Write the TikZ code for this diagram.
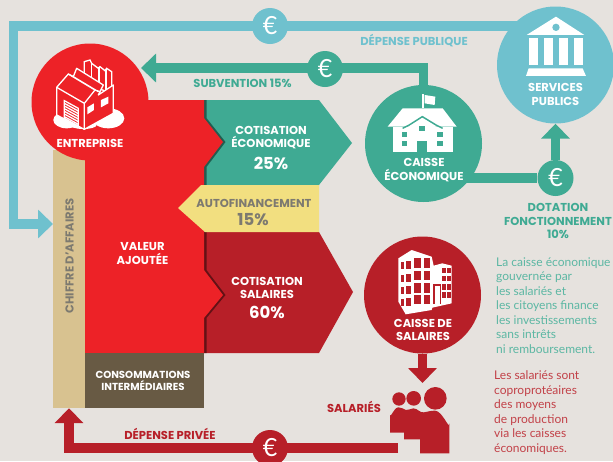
\documentclass[tikz,border=0pt]{standalone}
\usepackage{fontspec}
\setmainfont{Poppins}
\newfontfamily\corpsfont{Lato}
\usetikzlibrary{arrows.meta,positioning}
\definecolor{fond}{HTML}{E6E2DE}
\definecolor{rouge}{HTML}{ED2227}
\definecolor{bordeaux}{HTML}{B71F28}
\definecolor{vert}{HTML}{3FAA93}
\definecolor{bleu}{HTML}{6FC1CE}
\definecolor{beige}{HTML}{D8C290}
\definecolor{brun}{HTML}{685A44}
\definecolor{jaune}{HTML}{F2DF80}
\definecolor{gristexte}{HTML}{7D7A70}
\tikzstyle{disque}=[
	circle,
	inner sep=0,
	minimum size=117]
\tikzstyle{euro}=[
	circle,
	inner sep=0,
	minimum size=36,
	text=white,
	font=\corpsfont\fontsize{25}{25}\selectfont]
\tikzstyle{flux}=[
	line width=9.5]
\tikzstyle{fleche}=[
	line width=9.5,
	-{Triangle[length=15pt,width=28pt]}]
\tikzstyle{titre}=[
	align=center,
	inner sep=0,
	text=white,
	font=\fontsize{11.5}{13.2}\selectfont\bfseries]
\tikzstyle{pourcent}=[
	inner sep=0,
	text=white,
	font=\fontsize{16.5}{17}\selectfont\bfseries]
\tikzstyle{paragraphe}=[
	align=left,
	inner sep=0,
	anchor=north west,
	font=\corpsfont\fontsize{12}{14.5}\selectfont]
\begin{document}
\begin{tikzpicture}[x=1pt,y=-1pt]
	\useasboundingbox (0,0) rectangle (613,461);
	\fill[fond] (0,0) rectangle (613,461);
	\begin{scope}
		\fill[vert] (204,100) -- (319,100) -- (352,143) -- (319,185) -- (204,185) -- cycle;
		\fill[bordeaux] (204,232) -- (319,232) -- (353,292) -- (319,353) -- (204,353) -- cycle;
		\fill[black,opacity=.45,xshift=2.5] (200,100) -- (204,100) -- (204,118) -- (223,142) -- (204,167) -- (204,270) -- (223,295) -- (204,318) -- (204,353) -- (200,353) -- cycle;
		\fill[rouge] (85,100) -- (204,100) -- (204,118) -- (223,142) -- (204,167) -- (204,270) -- (223,295) -- (204,318) -- (204,353) -- (85,353) -- cycle;
		\fill[jaune] (319,185) -- (201,185) -- (178,208) -- (205,232) -- (319,232) -- cycle;
		\node[fill=beige,minimum width=32,minimum height=258,inner sep=0] (chiffre) at (69,279) {};
		\node[fill=brun,minimum width=119,minimum height=55,inner sep=0] (conso) at (144.5,380.5) {};
	\end{scope}
	\begin{scope}
		\node[disque,fill=rouge] (entreprise) at (90,102) {};
		\node[disque,fill=vert] (eco) at (423.5,143.5) {};
		\node[disque,fill=bleu] (services) at (555.5,65) {};
		\node[disque,fill=bordeaux] (salaires) at (422.5,295) {};
	\end{scope}
	\coordinate (depart) at (520,26);
	\coordinate (coin) at (13.5,26);
	\coordinate (publictip) at (53,224);
	\coordinate (subtip) at (141,68);
	\coordinate (salarietip) at (422.5,383);
	\coordinate (priveedep) at (398,448);
	\draw[fleche,bleu] (depart) -- (coin) |- (publictip);
	\draw[fleche,vert] (eco.north) |- (subtip);
	\draw[fleche,bordeaux] (salaires.south) -- (salarietip);
	\draw[fleche,bordeaux] (priveedep) -| (chiffre.south);
	\node[euro,fill=bleu] (europublic) at (270,26) {€};
	\node[euro,fill=vert] (eurosub) at (325,69) {€};
	\node[euro,fill=vert] (eurodot) at (555.5,178) {€};
	\node[euro,fill=bordeaux] (europrive) at (270,448) {€};
	\draw[flux,vert] (eco.center |- eurodot) -- (eurodot);
	\draw[fleche,vert] (eurodot) -- (services.south);
	% usine
	\begin{scope}[shift={(45,50)},x=.3333pt,y=-.3333pt]
		\fill[white] (65,210) ellipse (40 and 25);
		\fill[white] (190,205) ellipse (48 and 30);
		\fill[white] (115,225) ellipse (40 and 12);
		\filldraw[fill=rouge,draw=white,line width=1.3] (118,35) -- (118,100) -- (200,130) -- (200,65) -- (185,55) -- (180,62) -- (165,50) -- (160,55) -- (140,40) -- (135,30) -- cycle;
		\draw[white,line width=1.3] (140,40) -- (140,100) (162,52) -- (162,110) (183,58) -- (183,120);
		\filldraw[fill=rouge,draw=white,line width=1.3,line join=round] (35,112) -- (70,72) -- (85,80) -- (95,55) -- (175,105) -- (160,135) -- (205,105) -- (205,190) -- (118,238) -- (35,195) -- cycle;
		\draw[white,line width=1.3] (35,112) -- (118,160) -- (118,238) (118,160) -- (150,120) -- (70,72) (150,120) -- (165,125) (85,80) -- (160,125);
		\fill[white] (127,172) -- (147,160) -- (147,180) -- (127,193) -- cycle (168,150) -- (190,140) -- (190,160) -- (168,172) -- cycle;
		\draw[white,line width=1.3] (58,152) -- (58,205) -- (100,228) -- (100,175) -- cycle;
		\foreach \k in {0,8,...,40} {
			\draw[white,line width=1.3] (58,160+\k) -- (100,183+\k);
		}
	\end{scope}
	% maison
	\begin{scope}[shift={(306,0)},x=.3333pt,y=-.3333pt]
		\fill[white] (245,380) -- (290,325) -- (410,325) -- (452,380) -- cycle;
		\fill[white] (260,380) rectangle (440,457);
		\draw[vert,line width=1.5] (290,385) -- (310,375) -- (349,350) -- (390,375) -- (410,385);
		\fill[white] (300,385) -- (349,355) -- (398,385) -- cycle;
		\fill[white] (349,283) rectangle (353,325);
		\fill[white] (356,285) -- (388,290) -- (386,315) -- (356,310) -- cycle;
		\foreach \fx/\fy in {287/395,287/422,393/395,393/422,340/378} {
			\fill[vert] (\fx,\fy) rectangle ++(17,15);
		}
		\fill[vert] (333,422) rectangle (364,457);
	\end{scope}
	% temple
	\begin{scope}[shift={(306,0)},x=.3333pt,y=-.3333pt]
		\fill[white] (750,50) -- (835,105) -- (662,105) -- cycle;
		\fill[bleu] (750,82) circle (11);
		\foreach \cx in {670,715,760,805} {
			\fill[white] (\cx,115) rectangle ++(25,80);
		}
		\fill[white] (668,205) -- (830,205) -- (840,228) -- (660,228) -- cycle;
	\end{scope}
	% immeuble
	\begin{scope}[shift={(385,245)},x=.3333pt,y=-.3333pt]
		\fill[white] (40,40) -- (80,15) -- (140,35) -- (146,62) -- (172,55) -- (200,62) -- (200,175) -- (142,188) -- (140,195) -- (62,208) -- (40,170) -- cycle;
		\foreach \wy/\wh in {40/28,78/28,115/28,150/28} {
			\fill[bordeaux] (88,\wy) rectangle ++(20,\wh);
			\fill[bordeaux] (118,\wy) rectangle ++(18,\wh);
			\fill[bordeaux] (48,\wy+12) rectangle ++(10,\wh-8);
			\fill[bordeaux] (63,\wy+8) rectangle ++(14,\wh-4);
		}
		\foreach \wy in {68,92,118,142} {
			\fill[bordeaux] (172,\wy) rectangle ++(11,17);
			\fill[bordeaux] (186,\wy) rectangle ++(12,17);
		}
		\fill[bordeaux] (145,118) rectangle (167,178);
		\fill[white] (149,124) rectangle (164,178);
	\end{scope}
	% salaries
	\begin{scope}[shift={(380,380)},x=.3333pt,y=-.3333pt]
		\fill[bordeaux] (57,57) circle (20) (101,55) circle (22) (166,55) circle (34);
		\fill[bordeaux] (30,158) -- (30,105) to[out=-90,in=180] (55,82) to[out=0,in=160] (78,90) to[out=-10,in=180] (100,85) to[out=0,in=190] (132,97) to[out=10,in=180] (165,92) to[out=0,in=-90] (208,130) -- (208,220) -- (120,220) -- (120,178) -- (72,178) -- (72,158) -- cycle;
	\end{scope}
	% textes
	\node[titre] (lblentreprise) at (90,143) {ENTREPRISE};
	\node[titre] (lblservices) at (555.5,94.5) {SERVICES\\PUBLICS};
	\node[titre] (lbleco) at (424,170) {CAISSE\\ÉCONOMIQUE};
	\node[titre] (lblsalaires) at (423,330) {CAISSE DE\\SALAIRES};
	\node[titre] (lblvaleur) at (142.5,253.5) {VALEUR\\AJOUTÉE};
	\node[titre,font=\fontsize{10.2}{12.4}\selectfont\bfseries] (lblconso) at (143,381) {CONSOMMATIONS\\INTERMÉDIAIRES};
	\node[titre] (lblcoteco) at (271,137.5) {COTISATION\\ÉCONOMIQUE};
	\node[pourcent] (pceco) at (271,163.5) {25\%};
	\node[titre] (lblcotsal) at (267,288) {COTISATION\\SALAIRES};
	\node[pourcent] (pcsal) at (267,312) {60\%};
	\node[titre,text=gristexte] (lblauto) at (254,203) {AUTOFINANCEMENT};
	\node[pourcent,text=gristexte] (pcauto) at (253,220) {15\%};
	\node[titre,text=vert] (lblsub) at (242.5,83) {SUBVENTION 15\%};
	\node[titre,text=bleu] (lblpublic) at (414,41) {DÉPENSE PUBLIQUE};
	\node[titre,text=bordeaux] (lblprive) at (170,434) {DÉPENSE PRIVÉE};
	\node[titre,text=bordeaux] (lblsalaries) at (354,407) {SALARIÉS};
	\node[titre,text=vert] (lbldot) at (558,221) {DOTATION\\FONCTIONNEMENT\\10\%};
	\node[titre,text=gristexte,rotate=90] (lblchiffre) at (69.5,256) {CHIFFRE D'AFFAIRES};
	\node[paragraphe,text=vert!85!white] (txteco) at (496,257.5) {La caisse économique\\gouvernée par\\les salariés et\\les citoyens finance\\les investissements\\sans intrêts\\ni remboursement.};
	\node[paragraphe,text=bordeaux!85!white] (txtsal) at (494,370.5) {Les salariés sont\\coproprotéaires\\des moyens\\de production\\via les caisses\\économiques.};
\end{tikzpicture}
\end{document}
